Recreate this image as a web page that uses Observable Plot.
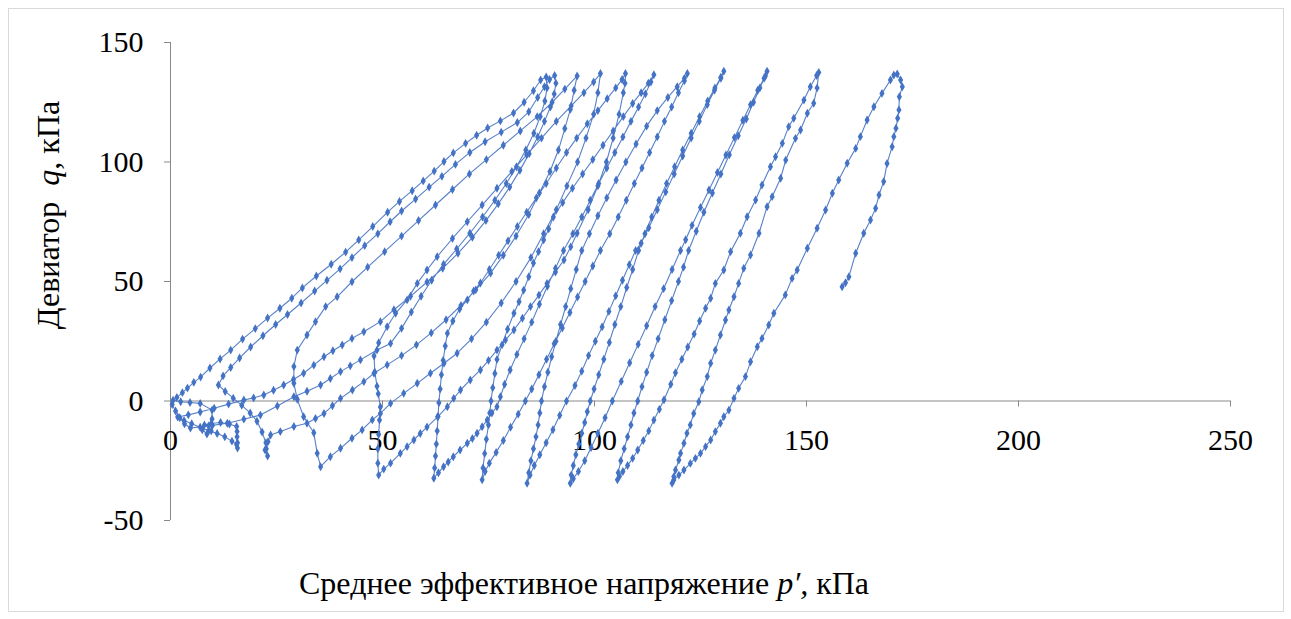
<!DOCTYPE html>
<html><head><meta charset="utf-8">
<script src="https://cdn.jsdelivr.net/npm/d3@7"></script>
<script src="https://cdn.jsdelivr.net/npm/@observablehq/plot@0.6"></script>
<style>
body{margin:0;background:#fff;}
#wrap{position:relative;width:1291px;height:619px;}
#frame{position:absolute;left:8px;top:8px;width:1274px;height:602px;border:1px solid #d9d9d9;}
#chart{position:absolute;left:0;top:0;}
#chart svg, #chart svg text, #chart svg tspan{font-family: "Liberation Serif", "DejaVu Serif", serif;}
</style></head><body>
<div id="wrap"><div id="frame"></div><div id="chart"></div></div>
<script>
const xTicks = [0, 50, 100, 150, 200, 250];
const yTicks = [-50, 0, 50, 100, 150];
const xTitle = ["Среднее эффективное напряжение ", "p′,", " кПа"];
const yTitle = ["Девиатор  ", "q", ", кПа"];

// stress path, cycle by cycle: [p', q]
const cycle1 = [[158.4,47.8],[159.2,49.5],[160.0,52.0],[161.6,61.8],[163.5,70.2],[165.1,75.7],[166.3,80.6],[167.1,86.2],[168.2,91.8],[169.0,99.4],[170.2,106.4],[170.6,110.6],[171.1,114.1],[171.5,118.3],[171.8,121.8],[171.9,127.3],[172.6,131.5],[172.2,134.3],[171.4,136.8],
[170.6,136.4],[169.8,134.3],[167.8,128.7],[165.9,123.1],[164.3,117.6],[162.7,110.6],[161.6,105.7],[159.6,99.5],[157.6,92.5],[156.1,86.9],[154.5,79.9],[152.5,72.3],[150.2,63.9],[147.8,54.8],[146.6,51.3],[145.0,44.4],[142.3,36.7],[141.1,31.8],[139.5,26.2],[138.4,22.7],[136.8,16.4],[135.6,10.2],[134.0,5.3],[132.9,1.1],[131.7,-3.8],[130.5,-6.6],[129.7,-9.3],[128.5,-12.8],[127.4,-16.3],[126.2,-19.1],[125.0,-21.9],[123.8,-24.0],[122.6,-26.1],[121.1,-28.9],[119.9,-31.0],[118.7,-33.1],[118.3,-34.4]];
const cycle2 = [[118.7,-31.7],[119.1,-28.9],[119.9,-24.7],[120.3,-21.9],[121.1,-17.7],[121.8,-13.5],[122.6,-10.0],[123.4,-5.2],[124.6,-0.3],[125.4,4.6],[126.6,10.2],[127.4,15.8],[128.5,21.3],[129.7,27.6],[130.9,33.9],[131.7,38.1],[132.9,43.6],[134.0,49.2],[135.2,55.5],[136.8,61.1],[138.8,70.2],[140.7,81.3],[141.9,85.5],[143.9,93.2],[145.1,100.8],[147.4,109.9],[148.6,113.4],[150.2,120.4],[151.7,124.6],[152.5,131],[152.9,137.5],
[152.4,136.2],[150.9,131.5],[149.4,125.9],[147.0,118.3],[145.8,114.8],[144.3,107.8],[142.7,102.2],[141.5,98.0],[139.5,90.4],[138.0,84.1],[136.0,77.1],[134.4,70.2],[132.1,62.5],[130.5,54.8],[128.5,49.2],[127.4,43.0],[126.2,38.8],[124.8,33.5],[123.5,28.0],[122.0,22.6],[120.6,17.5],[119.1,11.8],[118.0,7.0],[116.4,0.5],[115.3,-3.5],[114.0,-8.0],[112.8,-12.5],[111.5,-16.5],[110.2,-20.5],[109.0,-24.0],[107.8,-27.0],[106.7,-29.5],[105.9,-31.5],[105.4,-33.0]];
const cycle3 = [[105.6,-30],[106.2,-25],[107,-20],[107.8,-15],[108.6,-10],[109.3,-5],[110.2,0],[111.2,6],[112.3,12],[113.6,19],[115,26],[116.6,34],[118.2,42],[119.8,50],[121,56],[122.2,63],[124,71],[125.8,79],[127.8,87],[129.8,95],[131.8,103],[133.9,111],[135.8,118],[137.5,125],[139,131],[140.3,136],[140.7,138],
[140,135],[138.5,130],[136.8,124],[135,117.5],[133,110.2],[131,102.9],[129,95.6],[127,88.3],[125,81],[123,73.5],[121.5,67.5],[120.3,63],[118.3,55],[116.3,47],[114.3,39.5],[112.3,31.5],[110.3,23.7],[108.3,16],[106.3,8.2],[104.2,0],[102.5,-7],[100.8,-13.5],[99.2,-19.5],[97.7,-25],[96.2,-29.5],[95,-32.5],[94.3,-34.4]];
const cycle4 = [[94.5,-31],[95,-27],[95.6,-22.5],[96.3,-18],[97,-13.5],[97.7,-9],[98.3,-4.5],[99,0],[99.9,5],[101,11],[102.2,17.5],[103.5,24.5],[104.8,32],[106.2,39.5],[107.6,47.5],[109,55],[110.4,63],[111.9,70],[113.5,77],[115.2,84],[117,91],[118.9,98],[120.8,105],[122.8,112],[124.8,119],[126.7,125.5],[128.4,131],[129.8,135.5],[130.5,138],
[129.8,135],[128.3,130],[126.6,124],[124.7,117],[122.8,110],[120.8,102.5],[118.8,95],[116.8,87.5],[114.8,80],[112.8,72.5],[111,66],[109.7,63],[108.2,57],[106.6,50.5],[105,44],[103.4,37.5],[101.8,31],[100.2,25],[98.6,19],[97,12.5],[95.4,6.5],[93.4,0],[91.8,-6],[90.2,-12],[88.6,-17.5],[87.1,-22.5],[85.8,-27],[84.8,-31],[84.1,-34.4]];
const cycle5 = [[84.5,-30],[85,-25],[85.6,-20],[86.2,-15],[86.7,-10],[87.1,-5],[87.5,0],[88.2,6],[89,12],[89.9,18.5],[90.9,25],[92,32],[93.2,39.5],[94.4,47],[95.7,55],[97,63],[98.8,70],[100.8,77.5],[102.9,85],[105.1,92.5],[107.4,100],[109.8,107.5],[112.3,115],[114.8,121.5],[117.3,127],[119.5,131.5],[121.2,135],[121.9,137],
[121.2,134],[119.8,129],[118.2,123],[116.5,117],[114.8,110.5],[113,104],[111.2,97.5],[109.4,91],[107.5,84],[105.6,77],[103.6,70],[101.4,63],[99.6,56.5],[97.8,50],[96,43.5],[94.2,37],[92.4,30.5],[90.5,24],[88.7,17.5],[86.9,11],[85.2,5],[83.7,0],[82,-5.5],[80.2,-11],[78.5,-16.5],[76.8,-21.5],[75.2,-26],[74.2,-29.5],[73.5,-33]];
const cycle6 = [[73.7,-28],[74.1,-22],[74.5,-16],[75,-10],[75.3,-5],[75.6,0],[76,5.5],[76.5,11.5],[77,17.4],[78.2,23.5],[79.5,30],[81,36.7],[82.2,41.5],[83.3,46.4],[84.5,52],[85.6,57.7],[86.8,62.5],[88,67.4],[89.2,72],[90.3,77],[92.5,83],[94.8,89],[97.2,95],[99.6,101],[102,107],[104.4,113],[106.8,119],[109,124.5],[111,129],[112.7,133],[114,136.5],
[113.3,133.5],[112,128.5],[110.4,123],[108.6,117],[106.7,110.5],[104.8,104],[102.9,97.5],[101,91],[99,84],[97,77],[94.9,70],[92.7,63],[90.8,55.5],[88.9,48],[87,40.5],[85.2,33],[83.4,26],[81.7,19.5],[80.1,13],[78.8,7],[77.8,1.8],[77,-2.4],[75.8,-5],[74.7,-7.9],[73.5,-10.8],[72.3,-13.5],[71.2,-15.7],[70,-17.7],[68.3,-20.5],[66.7,-23.3],[65.5,-25.5],[64.4,-27.5],[63.2,-30],[62.1,-32.3]];
const cycle7 = [[62.3,-28],[62.5,-23],[62.7,-18],[62.9,-12.5],[63.1,-6.5],[63.3,-0.7],[63.6,5],[63.9,11],[64.3,17],[64.8,23],[65.3,28.3],[66.6,33.5],[68.2,38.5],[70,42.3],[71.5,46],[73.1,49.4],[75.2,55],[77.4,61],[79.6,67],[81.8,73],[84,79],[86.3,85],[88.6,91],[91,97.5],[93.4,104],[95.8,110],[98.3,116],[100.8,121.5],[103,126.5],[105,131],[106.5,134.5],[107.3,137],
[107.2,133],[106.8,129],[105.8,120],[104.4,110],[102.8,100],[100.8,90],[98.5,80],[95.9,70.2],[94.4,64.5],[92.8,59],[90.8,54],[88.8,49.2],[86.9,44.3],[84.9,39.5],[83,34.6],[81,29.7],[79,25.5],[77,21.3],[75,17],[73.1,13],[70.7,8.8],[68.4,4.6],[66.8,1.1],[65.3,-2.4],[63,-6.6],[60.5,-10.9],[58.9,-13.6],[57.4,-16.3],[55.8,-19.1],[54.2,-21.9],[51.9,-26],[50.3,-28.5],[49.1,-31]];
const cycle8 = [[48.9,-26],[48.9,-20],[49.1,-14],[49.3,-8],[49.5,-2.5],[49,3],[48.7,6.2],[48.2,12],[48,18.8],[49.1,24.4],[51.1,31.1],[53.1,36.7],[55.8,42.3],[58.2,49.2],[60.5,54.8],[62.9,60.4],[66.5,68],[70,75],[73.5,82],[77,89],[80.5,96],[84,103],[87.5,110],[91,117],[94.5,123.5],[97.5,129],[99.8,133.5],[101.4,137],
[100.8,129],[99.8,120],[98,110],[96,100],[93.5,90],[91,80],[88,70],[85,60],[81.5,50],[78,41],[74.5,33],[71,26],[67.6,20],[64.5,15.8],[61.3,11.6],[58.2,7.4],[55,3.2],[51.9,-1],[49.5,-5.2],[47.6,-7.9],[45.2,-12.1],[42.8,-15.6],[40.1,-19.8],[37.7,-23.3],[35.4,-27.5]];
const cycle9 = [[34.6,-21.9],[33.8,-13.3],[31.4,-6.6],[29.9,0.7],[29.1,7.4],[29.1,14.4],[29.9,21.3],[32.2,27.6],[34.2,33.2],[36.6,39.5],[39.3,43.6],[42.8,49.9],[46.5,56],[50.5,62.5],[54.5,69],[58.5,75.5],[62.5,82],[66.5,88.5],[70.5,95],[74.5,101],[78.5,107],[82.5,113],[86.5,119],[90,125],[93,130.5],[95.9,136],
[95.2,130],[94.3,122],[93,114],[91.5,105],[89.5,96],[87,87],[84.5,78],[81.5,69],[78.5,61],[75.5,53.5],[72,46.5],[68.5,40],[65,34],[61.5,28.5],[58,23.5],[54.5,19],[51.1,15.1],[48,11.6],[45.6,8.1],[42.9,4.6],[40.1,1.1],[38.2,-2],[36.2,-5.2],[34.2,-7.3],[32.2,-9.3],[29.1,-10.7],[25.9,-12.8],[23.6,-14.2],[23,-17],[22.6,-20],[22.9,-23]];
const cycle10 = [[22.3,-20.5],[22.5,-17.5],[21.6,-13],[20.4,-8.5],[18.8,-5],[16.8,-1.8],[14.8,1.2],[12.9,4],[11.3,6.7],
[12.4,10.5],[14.2,14],[16.3,18],[18.9,22.6],[21.8,27.3],[24.8,32],[27.6,36.2],[30.8,41],[34,46],[36.9,50.5],[40,55.3],[42.8,60],[45.8,65],[48.9,70],[51.8,75],[54.5,79.5],[57.8,84.5],[61,89.5],[64,94],[67.2,99],[70.6,104],[74.2,108.5],[78,112.5],[81.8,116.5],[84.5,121],[86.6,127],[88.2,131.5],[89.4,134.5],[90.6,136.2],
[90.9,133],[90.5,128.5],[89.6,123],[88.2,117],[86.6,110.5],[84.6,103.5],[82.4,96.5],[80,89.5],[77.3,82.5],[74.4,75.5],[71.2,68.5],[67.8,61.8],[64.2,55.5],[60.5,49.8],[56.6,43.8],[52.7,38.2],[49.5,33.2],[45.6,29],[42.8,26.2],[40.5,23.4],[38.3,21],[36.2,18.5],[33.8,15],[31.4,11.6],[29,9],[26.7,6.7],[24.3,4.5],[22,2.5],[19.6,1.3],[17.3,0.4],[13.7,-1.3],[10.3,-3],[7,-4.6],[4.2,-5.8],[1.7,-6.7],
[3.2,-8.2],[5,-9.5],[7,-11],[9,-12.4],[11,-13.6],[12.8,-15],[14.5,-16.8],[15.6,-18.3],[15.8,-19.7]];
const cycle11 = [[15.8,-17.5],[15.7,-15],[15.7,-12.8],[15.6,-10.7],[13.9,-9.6],[11.8,-9],[9.6,-9.4],[8,-10],[7.5,-12],[8.6,-13.8],[9.6,-12.5],[9.9,-10.2],[9.8,-7.5],[9.8,-3.8],[7,-1],[4.6,-0.6],[2.4,-0.3],[0.6,0.3],
[1.5,1.5],[2.8,3.5],[4,5.4],[5.5,7.8],[7.1,10],[9.3,13.8],[11.7,17.6],[14.2,21.3],[17,25.9],[20,30.3],[22.9,34.7],[25.8,38.8],[28.6,43],[31.1,47.3],[34.4,52.3],[37.9,57.2],[41.3,62.3],[44.4,67.4],[47.7,73],[51.2,79],[54,83.5],[57,88],[59.6,92.1],[62.2,96.2],[64.5,100.2],[66.7,103.8],[69.6,107.8],[72.2,111.2],[74.8,114.2],[77.8,117.2],[80.9,120.5],[83.4,125],[85.6,129.8],[87.3,134.3],[88.6,135.6],
[88.8,131],[88.3,125.5],[87.2,119],[85.7,112],[83.8,105],[81.6,98],[79.2,91],[76.5,84],[73.6,77],[70.6,70.2],[67.5,63.6],[64.4,57.2],[61.6,50.5],[59.1,43.8],[56.8,37.2],[54.5,30.4],[51.9,24.1],[48.7,21.3],[44.8,17.2],[42.4,14.7],[40.1,12.3],[37.7,9.4],[35.4,6.7],[32.2,4.1],[29.1,1.8],[25.2,-2.1],[21.2,-5.9],[17.3,-7.6],[13.4,-9.3],[9,-10.4],[4.7,-11.3],[3.3,-9.5],[2.2,-7],[1.2,-4.2],[0.4,-1.5]];

const cycles = [cycle1, cycle2, cycle3, cycle4, cycle5, cycle6, cycle7, cycle8, cycle9, cycle10, cycle11];
const path = cycles.flatMap((c, i) => c.map(([p, q]) => ({p, q, cycle: i + 1})));

const blue = "#4472C4", axisGray = "#898989";
const font = "Liberation Serif, DejaVu Serif, serif";

const plot = Plot.plot({
  width: 1291, height: 619,
  marginLeft: 170, marginRight: 61, marginTop: 42, marginBottom: 99,
  style: {fontSize: "30px", background: "transparent", color: "#000", overflow: "visible"},
  x: {domain: [0, 250], axis: null},
  y: {domain: [-50, 150], axis: null},
  marks: [
    Plot.ruleX([0], {stroke: axisGray}),
    Plot.ruleY([0], {stroke: axisGray}),
    Plot.axisY({ticks: yTicks, tickSize: 6, tickPadding: 21, stroke: axisGray, fill: "#000", fontSize: 30, label: null, tickFormat: d => String(d)}),
    Plot.ruleX(xTicks, {x: d => d, y1: 0, y2: 0, insetBottom: -6, stroke: axisGray}),
    Plot.text(xTicks, {x: d => d, y: 0, dy: 39, text: d => String(d), fontSize: 30, fill: "#000"}),
    Plot.line(path, {x: "p", y: "q", stroke: blue, strokeWidth: 1.1, strokeOpacity: 0.9}),
    Plot.dot(path, {x: "p", y: "q", symbol: "diamond", r: 2.7, fill: blue, stroke: null})
  ]
});
plot.setAttribute("font-family", font);

const svg = d3.select(plot);
const yt = svg.append("text")
  .attr("transform", "translate(48,215) rotate(-90)")
  .attr("text-anchor", "middle").attr("dominant-baseline", "central")
  .attr("font-family", font).attr("font-size", 32).attr("fill", "#000");
yt.append("tspan").attr("xml:space", "preserve").text(yTitle[0]);
yt.append("tspan").attr("font-style", "italic").text(yTitle[1]);
yt.append("tspan").text(yTitle[2]);

const xt = svg.append("text")
  .attr("x", 584).attr("y", 583)
  .attr("text-anchor", "middle").attr("dominant-baseline", "central")
  .attr("font-family", font).attr("font-size", 32).attr("fill", "#000");
xt.append("tspan").text(xTitle[0]);
xt.append("tspan").attr("font-style", "italic").text(xTitle[1]);
xt.append("tspan").text(xTitle[2]);

document.getElementById("chart").appendChild(plot);
</script>
</body></html>
